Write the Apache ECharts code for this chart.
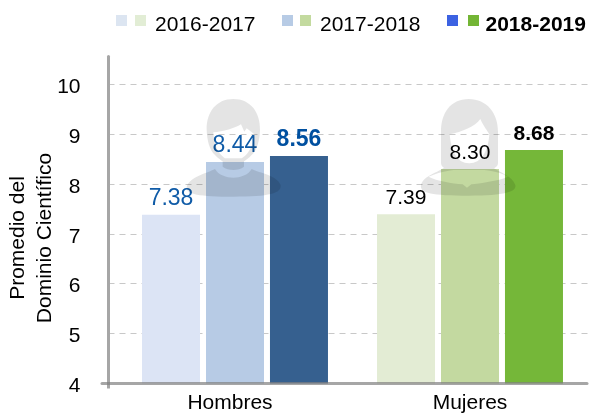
<!DOCTYPE html>
<html>
<head>
<meta charset="utf-8">
<script src="https://cdn.jsdelivr.net/npm/echarts@6/dist/echarts.min.js"></script>
<style>
  html, body { margin: 0; padding: 0; background: #fff; }
  #chart { width: 589px; height: 416px; }
</style>
</head>
<body>
<div id="chart"></div>
<script>
const categories = ['Hombres', 'Mujeres']
const years = ['2016-2017', '2017-2018', '2018-2019']
const values2016 = [7.38, 7.39]
const values2017 = [8.44, 8.30]
const values2018 = [8.56, 8.68]
const blues = ['#dce4f5', '#b7cbe5', '#36608f']
const greens = ['#e3ecd4', '#c3d9a0', '#75b739']
const legendBlues = ['#dce5f1', '#b7cbe5', '#3c62e2']
const legendGreens = ['#e2edd5', '#c3da9f', '#73b535']

const FONT = '"Liberation Sans", Arial, sans-serif'
const GREY = '#a6a6a6'
const Y_MIN = 4
const Y_MAX = 10.553

// silhouettes, traced in 3x zoom pixels and scaled down
const manPath = 'M160 12 C212 12 241 52 240 105 C239 135 232 165 215 180 C198 198 178 210 160 210 C142 210 122 198 105 180 C88 165 81 135 80 105 C79 52 108 12 160 12 Z ' +
  'M100 112 C102 160 125 197 160 197 C195 197 220 160 223 118 L200 100 L193 110 L183 88 C165 100 130 110 100 112 Z ' +
  'M128 190 L192 190 L192 215 C175 228 145 228 128 215 Z ' +
  'M20 275 C30 245 80 235 105 222 C115 240 140 248 160 248 C180 248 205 240 215 222 C240 235 290 240 302 270 C305 295 270 305 160 305 C60 305 15 298 20 275 Z'
const womanPath = 'M170 12 C225 12 258 55 258 110 L258 205 C258 215 245 225 225 225 L115 225 C100 225 87 215 87 205 L87 110 C87 55 115 12 170 12 Z ' +
  'M113 118 C118 170 135 205 172 205 C208 205 228 170 232 118 C225 105 215 95 205 72 C190 95 150 110 113 118 Z ' +
  'M27 270 C35 240 75 235 100 215 L240 215 C265 235 300 240 310 270 C315 290 280 302 170 302 C60 302 22 295 27 270 Z ' +
  'M50 245 C75 258 120 265 152 268 L165 278 L178 268 C200 265 260 258 288 245 C260 228 210 222 170 222 C130 222 90 228 50 245 Z'

echarts.graphic.registerShape('manShape', echarts.graphic.extendPath(manPath))
echarts.graphic.registerShape('womanShape', echarts.graphic.extendPath(womanPath))

const silhouette = (type, x, y) => ({
  type,
  x, y, scaleX: 1 / 3, scaleY: 1 / 3,
  z: 3,
  silent: true,
  style: { fill: 'rgba(0,0,0,0.105)' }
})

const legendRow = [
  { a: 116, b: 135, text: 155, bold: false },
  { a: 282, b: 300, text: 320, bold: false },
  { a: 447, b: 468, text: 485.5, bold: true }
]
const legendGraphics = []
legendRow.forEach((item, i) => {
  legendGraphics.push({ type: 'rect', shape: { x: item.a, y: 15, width: 11, height: 11 }, style: { fill: legendBlues[i] } })
  legendGraphics.push({ type: 'rect', shape: { x: item.b, y: 15, width: 11, height: 11 }, style: { fill: legendGreens[i] } })
  legendGraphics.push({
    type: 'text', x: item.text, y: 25,
    style: { text: years[i], font: (item.bold ? 'bold ' : '') + '21px ' + FONT, fill: '#000', verticalAlign: 'middle' }
  })
})

const barSeries = (name, values, idx) => ({
  name,
  type: 'bar',
  xAxisIndex: 1,
  yAxisIndex: 1,
  barWidth: 58,
  barGap: '10.3%',
  data: values.map((v, i) => ({
    value: v,
    itemStyle: { color: i === 0 ? blues[idx] : greens[idx] },
    label: {
      show: true,
      position: 'top',
      distance: i === 0 ? 5 : 5.5,
      fontFamily: FONT,
      fontSize: i === 0 ? 23 : 21,
      fontWeight: idx === 2 ? 'bold' : 'normal',
      color: i === 0 ? (idx === 2 ? '#0050a0' : '#0f5ba7') : '#000',
      formatter: () => v.toFixed(2)
    }
  }))
})

const chart = echarts.init(document.getElementById('chart'), null, { renderer: 'canvas' })
chart.setOption({
  animation: false,
  textStyle: { fontFamily: FONT },
  grid: [
    { left: 108.5, right: 0, top: 56.5, height: 327, outerBoundsMode: 'none' },   // y axis and dashed lines
    { left: 117.5, right: 1.5, top: 56.5, height: 327, outerBoundsMode: 'none' }, // bars
    { left: 102, right: 2, top: 56.5, height: 327, outerBoundsMode: 'none' }      // base line
  ],
  xAxis: [
    {
      type: 'value', gridIndex: 0, min: 0, max: 1,
      axisLine: { show: false, onZero: false },
      axisTick: { show: true, customValues: [0], length: 5, lineStyle: { color: GREY, width: 3 } },
      axisLabel: { show: false },
      splitLine: { show: false }
    },
    {
      type: 'category', gridIndex: 1, data: categories,
      axisLine: { show: false },
      axisTick: { show: false },
      axisLabel: {
        margin: 9, fontSize: 21, color: '#000', fontFamily: FONT,
        formatter: (name) => (name === categories[0] ? '{shifted|' + name + '}' : name),
        rich: { shifted: { fontSize: 21, color: '#000', fontFamily: FONT, padding: [0, 10, 0, 0] } }
      }
    },
    {
      type: 'value', gridIndex: 2, min: 0, max: 1, z: 3,
      axisLine: { show: true, onZero: false, lineStyle: { color: 'rgba(128,128,128,0.7)', width: 3 } },
      axisTick: { show: false },
      axisLabel: { show: false },
      splitLine: { show: false }
    }
  ],
  yAxis: [
    {
      type: 'value', gridIndex: 0, min: Y_MIN, max: Y_MAX, interval: 1,
      name: 'Promedio del\nDominio Científico',
      nameLocation: 'middle',
      nameRotate: 90,
      nameGap: 49.5,
      nameMoveOverlap: false,
      nameTextStyle: { fontSize: 21, lineHeight: 27, color: '#000', fontFamily: FONT, padding: [0, 36, 0, 0] },
      axisLine: { show: true, lineStyle: { color: GREY, width: 3 } },
      axisTick: { show: false },
      axisLabel: { showMaxLabel: false, margin: 28, fontSize: 21, color: '#000', fontFamily: FONT, verticalAlign: 'top', lineHeight: 6 },
      splitLine: { show: true, showMaxLine: false, showMinLine: false, lineStyle: { color: '#c8c8c8', type: [6, 5], width: 1 } }
    },
    { type: 'value', gridIndex: 1, min: Y_MIN, max: Y_MAX, show: false },
    { type: 'value', gridIndex: 2, min: Y_MIN, max: Y_MAX, show: false }
  ],
  series: [
    barSeries(years[0], values2016, 0),
    barSeries(years[1], values2017, 1),
    barSeries(years[2], values2018, 2)
  ],
  graphic: [
    silhouette('manShape', 180, 95),
    silhouette('womanShape', 412, 95),
    ...legendGraphics
  ]
})
</script>
</body>
</html>
